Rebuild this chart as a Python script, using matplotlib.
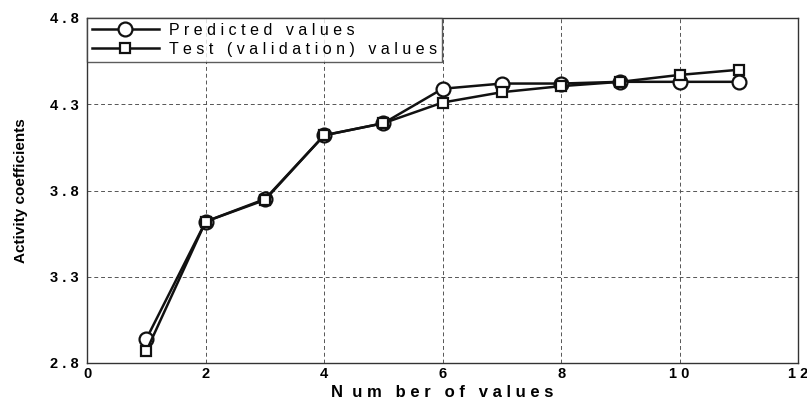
import matplotlib.pyplot as plt
from matplotlib.ticker import FuncFormatter

plt.rcParams['font.family'] = ['Liberation Sans', 'DejaVu Sans']

# data
n_values = [1, 2, 3, 4, 5, 6, 7, 8, 9, 10, 11]
predicted = [2.94, 3.62, 3.75, 4.12, 4.19, 4.39, 4.42, 4.42, 4.43, 4.43, 4.43]
test_vals = [2.87, 3.62, 3.745, 4.12, 4.19, 4.31, 4.37, 4.405, 4.43, 4.47, 4.50]
x_ticks = [0, 2, 4, 6, 8, 10, 12]
y_ticks = [2.8, 3.3, 3.8, 4.3, 4.8]


def spaced(s):
    return " ".join(s)


fig = plt.figure(figsize=(8.07, 4.0), dpi=100)
ax = fig.add_axes([0.108, 0.0925, 0.881, 0.8625])

ax.plot(n_values, predicted, color='#111111', lw=1.8, marker='o', ms=10,
        mfc='white', mec='#111111', mew=1.6, label=spaced("Predicted values"))
ax.plot(n_values, test_vals, color='#111111', lw=1.8, marker='s', ms=7,
        mfc='white', mec='#111111', mew=1.6, label=spaced("Test (validation) values"))

ax.set_xlim(0, 12)
ax.set_ylim(2.8, 4.8)
ax.set_xticks(x_ticks)
ax.set_yticks(y_ticks)
ax.xaxis.set_major_formatter(FuncFormatter(lambda v, p: spaced(f"{v:.0f}")))
ax.yaxis.set_major_formatter(FuncFormatter(lambda v, p: spaced(f"{v:.1f}")))
ax.tick_params(axis='y', length=0, labelsize=10.5, pad=6)
ax.tick_params(axis='x', length=0, labelsize=10.5, pad=3)
for lab in ax.get_xticklabels() + ax.get_yticklabels():
    lab.set_fontweight('bold')

ax.grid(True, ls=(0, (4, 3)), color='#555555', lw=0.7)
for sp in ax.spines.values():
    sp.set_color('#333333')
    sp.set_linewidth(1.0)

ax.set_xlabel("N  u m   b e r   o f   v a l u e s", fontsize=12, fontweight='bold')
ax.xaxis.set_label_coords(0.5, -0.064)
ax.set_ylabel("Activity coefficients", fontsize=11, fontweight='bold', labelpad=16)

leg = ax.legend(loc='upper left', fontsize=11.5, frameon=True, fancybox=False,
                borderaxespad=0, handlelength=4.2, borderpad=0.3, labelspacing=0.25,
                handletextpad=0.6)
leg.get_frame().set_edgecolor('#333333')
leg.get_frame().set_linewidth(1.0)

fig.savefig('out.png', dpi=100)
